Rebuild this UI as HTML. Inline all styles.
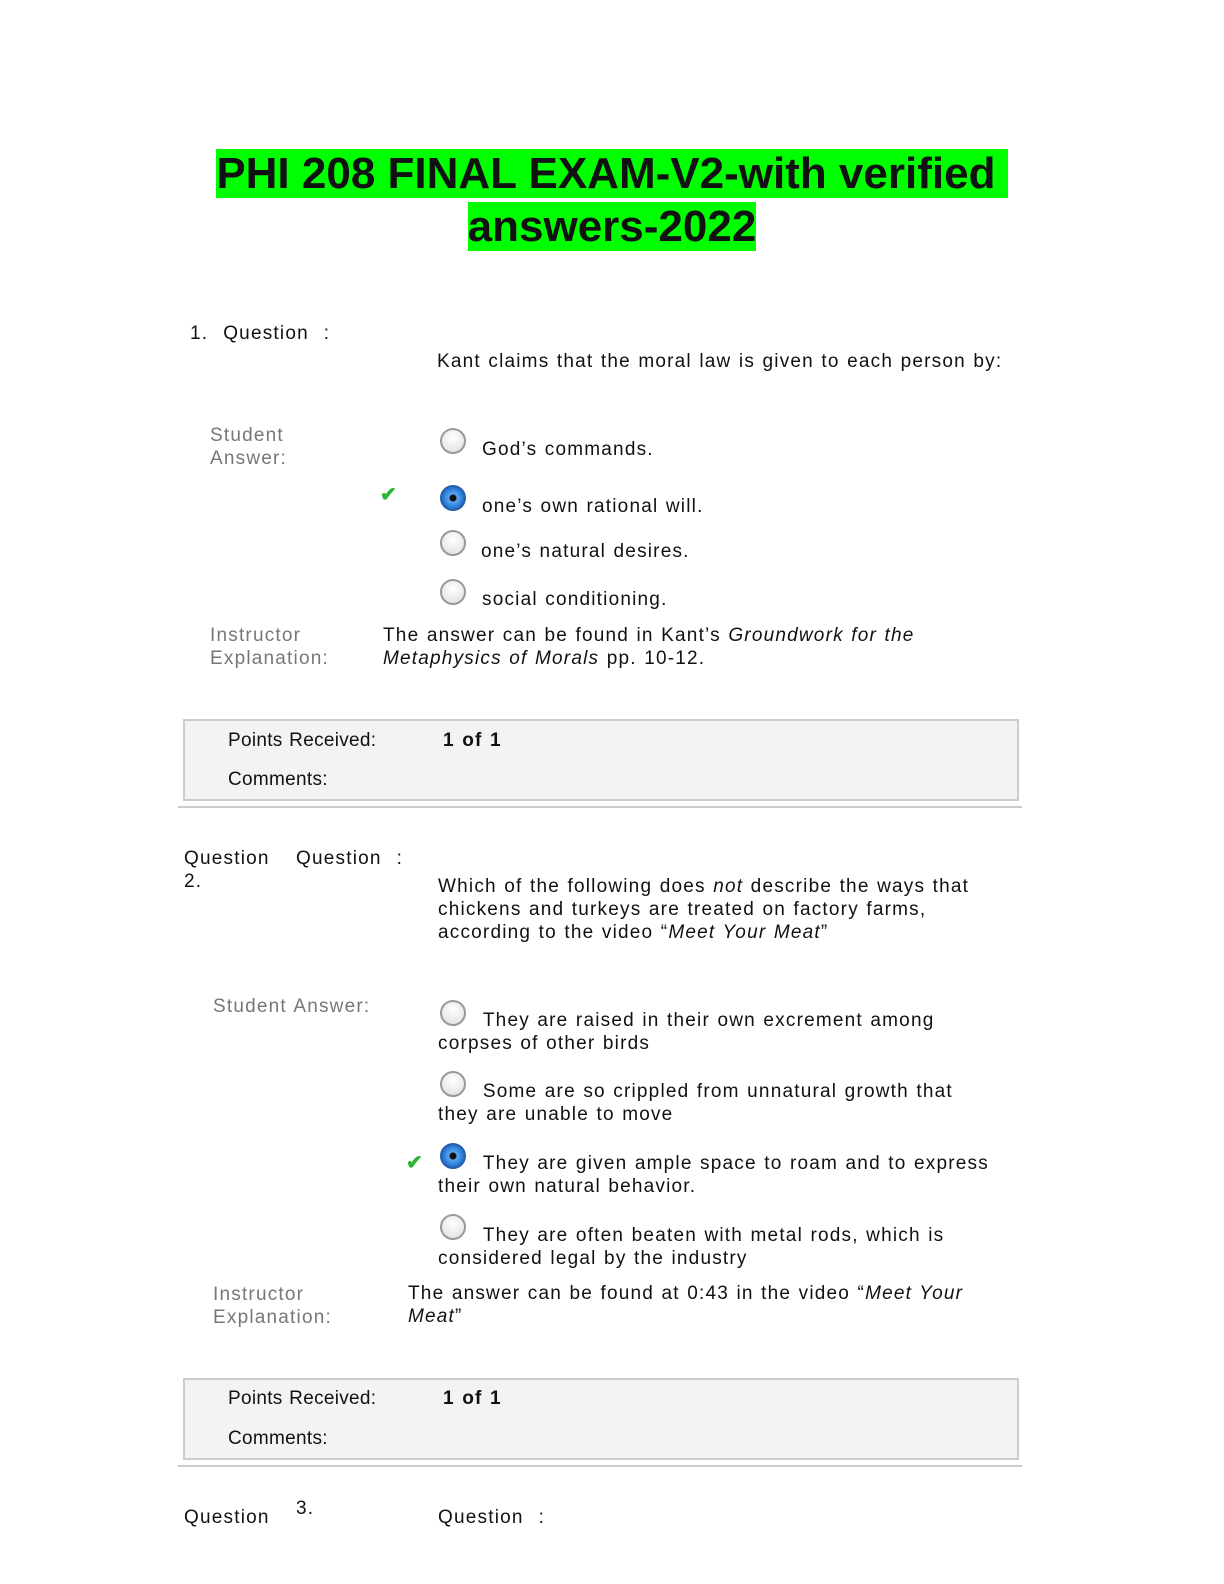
<!DOCTYPE html>
<html><head><meta charset="utf-8"><style>
body{margin:0;width:1224px;height:1584px;background:#fff;position:relative;font-family:"Liberation Sans",sans-serif;color:#111;overflow:hidden}
.a{position:absolute;font-size:19px;line-height:23px;white-space:nowrap;letter-spacing:1.2px;word-spacing:1px}
.g{color:#777}
.t{position:absolute;left:0;width:1224px;text-align:center;font-weight:bold;font-size:44px;line-height:53px}
.t span{background:#00ff00;color:#111}
.r{position:absolute;width:22px;height:22px;border-radius:50%;border:2px solid #999;background:radial-gradient(circle at 50% 35%,#fff,#ddd)}
.s{border-color:#2a5ea8;background:radial-gradient(circle at 50% 50%,#111 0 3px,#5aa8f0 4px,#1f6fd0 11px)}
.box{position:absolute;left:183px;width:832px;height:78px;background:#f3f3f3;border:2px solid #ccc}
.hr{position:absolute;left:178px;width:844px;height:2px;background:#ccc}
.ck{position:absolute;color:#2bb534;font-size:20px;font-weight:bold}
.p{letter-spacing:0.3px}
</style></head><body>
<div class="t" style="top:147px"><span>PHI 208 FINAL EXAM-V2-with verified&nbsp;</span></div>
<div class="t" style="top:200px"><span>answers-2022</span></div>

<div class="a" style="left:190px;top:322px">1.&nbsp; Question&nbsp; :</div>
<div class="a" style="left:437px;top:350px">Kant claims that the moral law is given to each person by:</div>
<div class="a g" style="left:210px;top:424px">Student<br>Answer:</div>
<div class="r" style="left:440px;top:428px"></div><div class="a" style="left:482px;top:438px">God’s commands.</div>
<div class="ck" style="left:380px;top:482px">✔</div>
<div class="r s" style="left:440px;top:485px"></div><div class="a" style="left:482px;top:495px">one’s own rational will.</div>
<div class="r" style="left:440px;top:530px"></div><div class="a" style="left:481px;top:540px">one’s natural desires.</div>
<div class="r" style="left:440px;top:579px"></div><div class="a" style="left:482px;top:588px">social conditioning.</div>
<div class="a g" style="left:210px;top:624px">Instructor<br>Explanation:</div>
<div class="a" style="left:383px;top:624px">The answer can be found in Kant’s <i>Groundwork for the</i><br><i>Metaphysics of Morals</i> pp. 10-12.</div>
<div class="box" style="top:719px"></div>
<div class="a p" style="left:228px;top:729px">Points Received:</div><div class="a" style="left:443px;top:729px;font-weight:bold">1 of 1</div>
<div class="a p" style="left:228px;top:768px">Comments:</div>
<div class="hr" style="top:806px"></div>

<div class="a" style="left:184px;top:847px">Question<br>2.</div>
<div class="a" style="left:296px;top:847px">Question&nbsp; :</div>
<div class="a" style="left:438px;top:875px">Which of the following does <i>not</i> describe the ways that<br>chickens and turkeys are treated on factory farms,<br>according to the video “<i>Meet Your Meat</i>”</div>
<div class="a g" style="left:213px;top:995px">Student Answer:</div>
<div class="r" style="left:440px;top:1000px"></div><div class="a" style="left:438px;top:1009px">&nbsp;&nbsp;&nbsp;&nbsp;&nbsp;&nbsp;They are raised in their own excrement among<br>corpses of other birds</div>
<div class="r" style="left:440px;top:1071px"></div><div class="a" style="left:438px;top:1080px">&nbsp;&nbsp;&nbsp;&nbsp;&nbsp;&nbsp;Some are so crippled from unnatural growth that<br>they are unable to move</div>
<div class="ck" style="left:406px;top:1150px">✔</div>
<div class="r s" style="left:440px;top:1143px"></div><div class="a" style="left:438px;top:1152px">&nbsp;&nbsp;&nbsp;&nbsp;&nbsp;&nbsp;They are given ample space to roam and to express<br>their own natural behavior.</div>
<div class="r" style="left:440px;top:1214px"></div><div class="a" style="left:438px;top:1224px">&nbsp;&nbsp;&nbsp;&nbsp;&nbsp;&nbsp;They are often beaten with metal rods, which is<br>considered legal by the industry</div>
<div class="a g" style="left:213px;top:1283px">Instructor<br>Explanation:</div>
<div class="a" style="left:408px;top:1282px">The answer can be found at 0:43 in the video “<i>Meet Your</i><br><i>Meat</i>”</div>
<div class="box" style="top:1378px"></div>
<div class="a p" style="left:228px;top:1387px">Points Received:</div><div class="a" style="left:443px;top:1387px;font-weight:bold">1 of 1</div>
<div class="a p" style="left:228px;top:1427px">Comments:</div>
<div class="hr" style="top:1465px"></div>

<div class="a" style="left:184px;top:1506px">Question</div>
<div class="a" style="left:296px;top:1497px">3.</div>
<div class="a" style="left:438px;top:1506px">Question&nbsp; :</div>
</body></html>
